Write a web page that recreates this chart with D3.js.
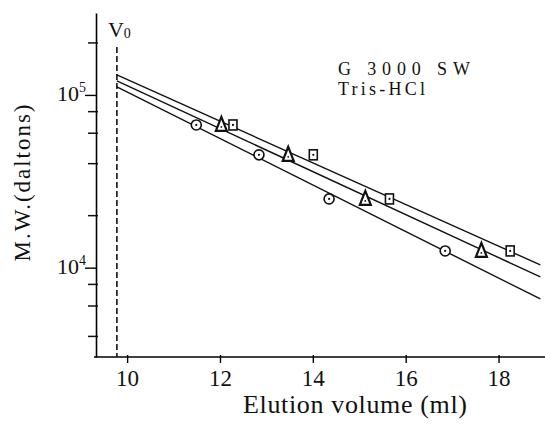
<!DOCTYPE html>
<html>
<head>
<meta charset="utf-8">
<script src="https://cdn.jsdelivr.net/npm/d3@7"></script>
<style>
    body { margin: 0; background: #fff; }
    #chart-area { width: 545px; height: 426px; }
    text { font-family: "Liberation Serif", "Times New Roman", serif; fill: #111; }
</style>
</head>
<body>
<div id="chart-area"></div>
<script>
// elution volumes (ml) of the standards, one array per symbol
const elutionCircle = [11.49, 12.84, 14.35, 16.85];
const elutionTriangle = [12.03, 13.47, 15.13, 17.63];
const elutionSquare = [12.28, 14.01, 15.65, 18.25];
// molecular weights of the standards (daltons)
const molWeights = [67000, 45000, 25000, 12500];

// calibration lines, read at both ends
const fitVolumes = [9.78, 18.9];
const fitCircle = [111300, 6590];
const fitTriangle = [120500, 8840];
const fitSquare = [130600, 10370];

const voidVolume = 9.78;
const xTickValues = [10, 12, 14, 16, 18];
const yMajorTicks = [1e4, 1e5];
const yMinorTicks = [2e5, 8e4, 6e4, 4e4, 2e4, 8e3, 6e3, 4e3];

class CalibrationPlot {

    constructor(parentElement){
        this.parentElement = parentElement;
        this.initVis();
    }

    initVis(){
        let vis = this;

        vis.margin = {top: 13, right: 0, bottom: 69, left: 96};
        vis.width = 545 - vis.margin.left - vis.margin.right;
        vis.height = 426 - vis.margin.top - vis.margin.bottom;

        vis.svg = d3.select("#" + vis.parentElement).append("svg")
            .attr("width", 545)
            .attr("height", 426)
            .append("g")
            .attr("transform", `translate(${vis.margin.left}, ${vis.margin.top})`);

        vis.x = d3.scaleLinear().domain([9.33, 19.0]).range([0, vis.width]);
        vis.y = d3.scaleLog().domain([3040, 298000]).range([vis.height, 0]);

        vis.wrangleData();
    }

    wrangleData(){
        let vis = this;

        vis.points = [
            {shape: "circle", vals: elutionCircle},
            {shape: "triangle", vals: elutionTriangle},
            {shape: "square", vals: elutionSquare}
        ].flatMap(s => s.vals.map((v, i) => ({shape: s.shape, vol: v, mw: molWeights[i]})));

        vis.fits = [fitCircle, fitTriangle, fitSquare].map(f => f.map((mw, i) => ({vol: fitVolumes[i], mw: mw})));

        vis.updateVis();
    }

    updateVis(){
        let vis = this;

        // x axis
        let xAxis = vis.svg.append("g")
            .attr("transform", `translate(0, ${vis.height})`)
            .call(d3.axisBottom(vis.x).tickValues(xTickValues).tickSize(6).tickSizeOuter(0).tickPadding(7).tickFormat(d3.format("d")));
        xAxis.selectAll("text").style("font-size", "23px").style("font-family", "Liberation Serif, serif").attr("fill", "#111");
        xAxis.select(".domain").attr("stroke-width", 1.6).attr("d", `M-2,0H${vis.width}`);
        xAxis.selectAll(".tick line").attr("stroke-width", 1.4).attr("y1", -2);

        // y axis, major ticks
        let yAxis = vis.svg.append("g")
            .call(d3.axisLeft(vis.y).tickValues(yMajorTicks).tickSize(11).tickSizeOuter(0).tickFormat(""));
        yAxis.select(".domain").attr("stroke-width", 1.6);
        yAxis.selectAll(".tick line").attr("stroke-width", 1.4);
        yAxis.selectAll(".tick").append("text")
            .attr("x", -10)
            .attr("y", 6)
            .attr("text-anchor", "end")
            .style("font-size", "22px")
            .each(function(d){
                let t = d3.select(this);
                t.append("tspan").text("10");
                t.append("tspan").attr("dy", -9).style("font-size", "14px").text(Math.round(Math.log10(d)));
            });

        // y axis, minor ticks
        vis.svg.append("g")
            .attr("class", "minor-ticks")
            .selectAll("line")
            .data(yMinorTicks)
            .join("line")
            .attr("x1", -8).attr("x2", 2)
            .attr("y1", d => vis.y(d)).attr("y2", d => vis.y(d))
            .attr("stroke", "#111")
            .attr("stroke-width", 1.5);

        // void volume
        vis.svg.append("line")
            .attr("x1", vis.x(voidVolume)).attr("x2", vis.x(voidVolume))
            .attr("y1", 34).attr("y2", vis.height)
            .attr("stroke", "#111")
            .attr("stroke-width", 1.6)
            .attr("stroke-dasharray", "6,3");

        vis.svg.append("text")
            .attr("x", vis.x(voidVolume) - 9)
            .attr("y", 24)
            .style("font-size", "22px")
            .call(t => {
                t.append("tspan").text("V");
                t.append("tspan").attr("dy", 1).style("font-size", "14px").text("0");
            });

        // calibration lines
        let line = d3.line().x(d => vis.x(d.vol)).y(d => vis.y(d.mw));
        vis.svg.selectAll(".fit")
            .data(vis.fits)
            .join("path")
            .attr("class", "fit")
            .attr("d", line)
            .attr("fill", "none")
            .attr("stroke", "#111")
            .attr("stroke-width", 1.4);

        // markers
        let marks = vis.svg.selectAll(".mark")
            .data(vis.points)
            .join("g")
            .attr("class", "mark")
            .attr("transform", d => `translate(${vis.x(d.vol)}, ${vis.y(d.mw)})`);

        marks.filter(d => d.shape === "circle").append("circle")
            .attr("r", 5).attr("fill", "#fff").attr("stroke", "#111").attr("stroke-width", 1.6);
        marks.filter(d => d.shape === "triangle").append("path")
            .attr("d", "M0,-8L5.5,6L-5.5,6Z")
            .attr("fill", "#fff").attr("stroke", "#111").attr("stroke-width", 2.2).attr("stroke-linejoin", "miter");
        marks.filter(d => d.shape === "square").append("rect")
            .attr("x", -4).attr("y", -5).attr("width", 8).attr("height", 10)
            .attr("fill", "#fff").attr("stroke", "#111").attr("stroke-width", 1.6);
        marks.filter(d => d.shape !== "triangle").append("circle")
            .attr("r", 1.1).attr("fill", "#111");
        marks.filter(d => d.shape === "triangle").append("circle")
            .attr("cy", 2).attr("r", 0.9).attr("fill", "#111");

        // column / buffer note
        vis.svg.append("text")
            .attr("x", 242).attr("y", 61.5)
            .attr("textLength", 132).attr("lengthAdjust", "spacing")
            .style("font-size", "18px")
            .text("G 3000 SW");
        vis.svg.append("text")
            .attr("x", 242).attr("y", 81.5)
            .attr("textLength", 87).attr("lengthAdjust", "spacing")
            .style("font-size", "18px")
            .text("Tris-HCl");

        // axis titles
        vis.svg.append("text")
            .attr("transform", `translate(${30 - vis.margin.left}, ${183 - vis.margin.top}) rotate(-90)`)
            .attr("text-anchor", "middle")
            .attr("textLength", 157).attr("lengthAdjust", "spacing")
            .style("font-size", "23px")
            .text("M.W.(daltons)");
        vis.svg.append("text")
            .attr("x", 355 - vis.margin.left)
            .attr("y", 413 - vis.margin.top)
            .attr("text-anchor", "middle")
            .attr("textLength", 224).attr("lengthAdjust", "spacing")
            .style("font-size", "26px")
            .text("Elution volume (ml)");
    }
}

new CalibrationPlot("chart-area");
</script>
</body>
</html>
